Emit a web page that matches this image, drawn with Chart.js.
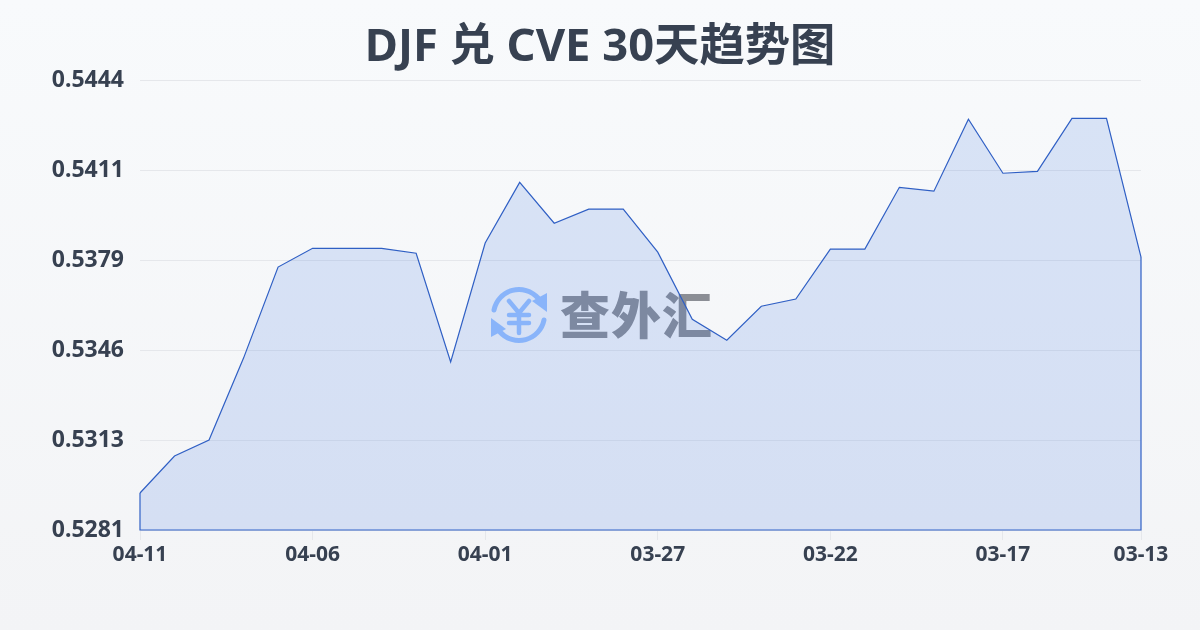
<!DOCTYPE html>
<html lang="zh">
<head>
<meta charset="utf-8">
<title>DJF 兑 CVE 30天趋势图</title>
<script src="https://cdn.jsdelivr.net/npm/chart.js@4/dist/chart.umd.min.js"></script>
<style>
    html, body { margin: 0; padding: 0; }
    body { width: 1200px; height: 630px; overflow: hidden; background: linear-gradient(180deg, #f8fafc 0%, #f3f4f6 100%); position: relative; }
    #mark { position: absolute; left: 488px; top: 284px; width: 230px; height: 62px; }
    #mark span { position: absolute; left: 72px; top: -8px; font: 900 50px/72px "Noto Sans CJK SC", sans-serif; color: #8b8e95; white-space: nowrap; letter-spacing: 1px; }
    canvas { position: absolute; left: 0; top: 0; }
</style>
</head>
<body>
<div id="mark">
    <svg width="62" height="62" viewBox="0 0 62 62" fill="none" stroke="#99c2ff" stroke-linecap="round">
        <path d="M6 26 A25.5 25.5 0 0 1 50 14" stroke-width="5"/>
        <path d="M56 36 A25.5 25.5 0 0 1 12 48" stroke-width="5"/>
        <path d="M44 17 L59 9 L59 28 Z" fill="#99c2ff" stroke="none"/>
        <path d="M3 34 L3 53 L18 45 Z" fill="#99c2ff" stroke="none"/>
        <path d="M21 17 L31 29 L41 17 M21 31 H41 M21 39 H41 M31 29 V49" stroke-width="4.5"/>
    </svg>
    <span>查外汇</span>
</div>
<canvas id="trend" width="1200" height="630"></canvas>
<script>
    const dates = ['04-11', '04-10', '04-09', '04-08', '04-07', '04-06', '04-05', '04-04', '04-03', '04-02',
        '04-01', '03-31', '03-30', '03-29', '03-28', '03-27', '03-26', '03-25', '03-24', '03-23',
        '03-22', '03-21', '03-20', '03-19', '03-18', '03-17', '03-16', '03-15', '03-14', '03-13'];
    const rates = [0.52942, 0.53076, 0.53134, 0.53431, 0.53761, 0.53829, 0.53829, 0.53829, 0.53811, 0.53417,
        0.53848, 0.54068, 0.53920, 0.53971, 0.53971, 0.53815, 0.53572, 0.53496, 0.53619, 0.53645,
        0.53826, 0.53826, 0.54050, 0.54036, 0.54297, 0.54101, 0.54108, 0.54300, 0.54300, 0.53797];
    const yTicks = [0.52808, 0.53134, 0.5346, 0.53786, 0.54112, 0.54438];
    const xTickLabels = ['04-11', '04-06', '04-01', '03-27', '03-22', '03-17', '03-13'];

    const yMin = yTicks[0];
    const yMax = yTicks[yTicks.length - 1];
    const lastDate = dates[dates.length - 1];
    const lineColor = '#2f5fc4';
    const textColor = '#374151';
    const fontFamily = '"Noto Sans", "Noto Sans CJK SC", sans-serif';

    // borde izquierdo, inferior y derecho del área
    const edge = [
        { x: dates[0], y: rates[0] },
        { x: dates[0], y: yMin },
        { x: lastDate, y: yMin },
        { x: lastDate, y: rates[rates.length - 1] }
    ];

    new Chart(document.getElementById('trend'), {
        type: 'line',
        data: {
            labels: dates,
            datasets: [
                {
                    data: rates,
                    borderColor: lineColor,
                    borderWidth: 1.2,
                    backgroundColor: 'rgba(59, 110, 225, 0.16)',
                    fill: 'start',
                    tension: 0,
                    pointRadius: 0,
                    clip: false
                },
                {
                    data: edge,
                    borderColor: lineColor,
                    borderWidth: 1.2,
                    fill: false,
                    tension: 0,
                    pointRadius: 0,
                    clip: false
                }
            ]
        },
        options: {
            responsive: false,
            animation: false,
            layout: { padding: 0 },
            plugins: {
                legend: { display: false },
                tooltip: { enabled: false },
                title: {
                    display: true,
                    text: 'DJF 兑 CVE 30天趋势图',
                    color: textColor,
                    font: { family: fontFamily, size: 45.3, weight: 'bold', lineHeight: 1.2 },
                    padding: { top: 20.5, bottom: 5.4 }
                }
            },
            scales: {
                x: {
                    offset: false,
                    afterFit: function(scale) { scale.height = 100; },
                    grid: { drawOnChartArea: false, drawTicks: true, tickLength: 10, color: '#e5e7eb' },
                    border: { display: false },
                    ticks: {
                        autoSkip: false,
                        maxRotation: 0,
                        padding: 2,
                        color: textColor,
                        font: { family: fontFamily, size: 21, weight: 'bold' },
                        callback: function(value) {
                            const label = this.getLabelForValue(value);
                            return xTickLabels.includes(label) ? label : null;
                        }
                    }
                },
                y: {
                    min: yMin,
                    max: yMax,
                    afterFit: function(scale) { scale.width = 140; },
                    afterBuildTicks: function(scale) {
                        scale.ticks = yTicks.map(v => ({ value: v }));
                    },
                    grid: { drawTicks: false, color: '#e5e7eb', lineWidth: 1 },
                    border: { display: false },
                    ticks: {
                        padding: 16,
                        color: textColor,
                        font: { family: fontFamily, size: 23, weight: 'bold' },
                        callback: function(value) { return value.toFixed(4); }
                    }
                },
                // eje vacío: solo reserva el margen derecho
                spacer: {
                    position: 'right',
                    afterFit: function(scale) { scale.width = 59; },
                    grid: { display: false },
                    border: { display: false },
                    ticks: { display: false }
                }
            }
        }
    });
</script>
</body>
</html>
